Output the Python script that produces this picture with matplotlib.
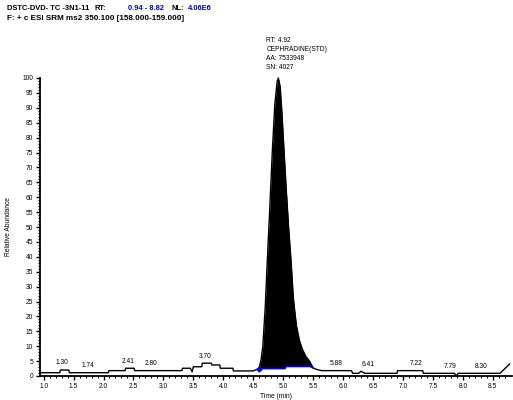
import matplotlib.pyplot as plt
import numpy as np

plt.rcParams['font.family'] = ['Liberation Sans', 'DejaVu Sans']

# chromatogram trace (time in min, relative abundance %)
time = [0.94, 1.27, 1.28, 1.42, 1.43, 2.08, 2.09, 2.36, 2.37, 2.51, 2.52, 3.31, 3.32, 3.45,
        3.48, 3.50, 3.64, 3.65, 3.80, 3.81, 3.94, 3.95, 4.16, 4.17, 4.50, 4.56,
        4.60, 4.63, 4.66, 4.70, 4.74, 4.78, 4.82, 4.86, 4.90, 4.92, 4.95, 4.98, 5.01,
        5.05, 5.09, 5.13, 5.17, 5.22, 5.27, 5.32, 5.38, 5.44, 5.50,
        5.56, 5.64, 6.14, 6.16, 6.26, 6.30, 6.36, 6.90, 6.91, 7.33, 7.34, 7.86, 7.89,
        7.92, 8.62, 8.78]
intensity = [1.1, 1.1, 2.0, 2.0, 1.1, 1.1, 1.8, 1.8, 2.6, 2.6, 1.8, 1.8, 2.6, 2.6,
             1.4, 3.1, 3.1, 4.3, 4.3, 3.7, 3.7, 2.6, 2.6, 1.7, 1.7, 2.2,
             2.7, 5.4, 10, 23, 41, 58, 76, 91, 99, 100, 97, 88, 77,
             63, 50, 39, 26, 17, 12, 9, 6.5, 5, 2.7,
             2.2, 1.8, 1.8, 0.9, 0.9, 1.6, 0.9, 0.9, 1.8, 1.8, 0.9, 0.9, 0.0,
             0.9, 0.9, 4.0]

# integration baseline of main peak
base_t = [4.60, 5.03, 5.05, 5.45, 5.50]
base_i = [2.5, 2.5, 3.2, 3.2, 2.7]

# peak apex labels
lab_t = [1.30, 1.74, 2.41, 2.80, 3.70, 5.88, 6.41, 7.22, 7.79, 8.30]
lab_i = [2.0, 1.2, 2.6, 1.8, 4.3, 1.8, 1.6, 1.8, 0.9, 0.9]
lab_txt = ['1.30', '1.74', '2.41', '2.80', '3.70', '5.88', '6.41', '7.22', '7.79', '8.30']

fig = plt.figure(figsize=(5.13, 4.0), dpi=100)
ax = fig.add_axes([0.078, 0.06, 0.92, 0.745])

ax.plot(time, intensity, color='black', lw=1.0, clip_on=False)

# fill the integrated peak
pt = np.array(time)
pi = np.array(intensity)
m = (pt >= 4.60) & (pt <= 5.50)
ax.fill_between(pt[m], np.interp(pt[m], base_t, base_i), pi[m], color='black', lw=0)
ax.plot(base_t, base_i, color='#0000ff', lw=1.2)
ax.plot([base_t[0]], [base_i[0]], marker='D', ms=2.5, color='#0000ff')

for t, i, s in zip(lab_t, lab_i, lab_txt):
    ax.text(t, i + 1.2, s, ha='center', va='bottom', fontsize=4.8)

ax.text(4.72, 102.5, 'RT: 4.92\nCEPHRADINE(STD)\nAA: 7533948\nSN: 4027',
        ha='left', va='bottom', fontsize=4.8, linespacing=1.35)

ax.set_xlim(0.94, 8.82)
ax.set_ylim(0, 100)
ax.set_xticks(np.arange(1.0, 8.6, 0.5))
ax.set_xticks(np.arange(1.0, 8.8, 0.1), minor=True)
ax.set_yticks(np.arange(0, 101, 5))
ax.set_yticks(np.arange(0, 101, 1), minor=True)
ax.xaxis.set_major_formatter(plt.FormatStrFormatter('%.1f'))
ax.tick_params(labelsize=4.8, width=1.0, length=3, direction='out', pad=2)
ax.tick_params(which='minor', length=1.5, width=0.7)
for s in ['top', 'right']:
    ax.spines[s].set_visible(False)
for s in ['left', 'bottom']:
    ax.spines[s].set_linewidth(1.3)

ax.set_xlabel('Time (min)', fontsize=4.8, labelpad=2)
ax.set_ylabel('Relative Abundance', fontsize=4.8, labelpad=7)

# header
hfs = 5.4
fig.text(0.014, 0.978, 'DSTC-DVD- TC -3N1-11', fontsize=hfs, va='center', weight='bold')
fig.text(0.185, 0.978, 'RT:', fontsize=hfs, va='center', weight='bold')
fig.text(0.25, 0.978, '0.94 - 8.82', fontsize=hfs, va='center', color='#0000cc', weight='bold')
fig.text(0.335, 0.978, 'NL:', fontsize=hfs, va='center', weight='bold')
fig.text(0.366, 0.978, '4.06E6', fontsize=hfs, va='center', color='#0000cc', weight='bold')
fig.text(0.014, 0.953, 'F: + c ESI SRM ms2 350.100 [158.000-159.000]', fontsize=5.9,
         va='center', weight='bold')

fig.savefig('out.png', dpi=100)
